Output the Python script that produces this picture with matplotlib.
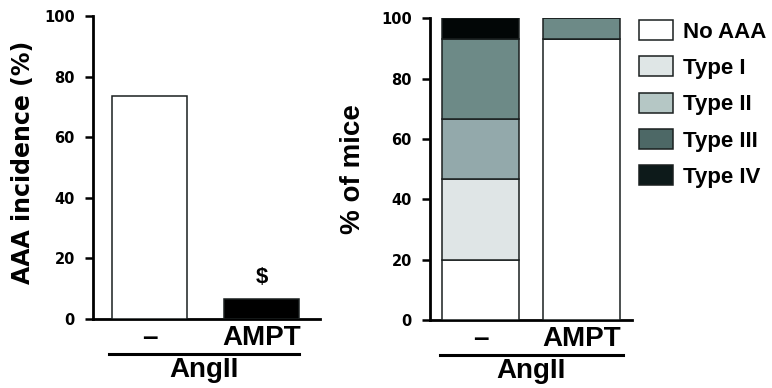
import matplotlib
matplotlib.use("Agg")
import matplotlib.pyplot as plt
from matplotlib.patches import Patch
import matplotlib.transforms as mtransforms

plt.rcParams['font.family'] = ['Liberation Sans', 'DejaVu Sans']
plt.rcParams['font.weight'] = 'bold'

# ---- data ----
groups = ["\u2013", "AMPT"]
incidence = [73.7, 6.7]
incidence_colors = ["white", "black"]

categories = ["No AAA", "Type I", "Type II", "Type III", "Type IV"]
stack_values = {
    "No AAA":   [20.0, 93.3],
    "Type I":   [26.7, 0.0],
    "Type II":  [20.0, 0.0],
    "Type III": [26.6, 6.7],
    "Type IV":  [6.7, 0.0],
}
bar_colors = ["#ffffff", "#dfe5e6", "#93a9ab", "#6d8a87", "#020606"]
legend_colors = ["#ffffff", "#dfe6e6", "#b5c7c5", "#4d6866", "#0d1a1a"]
treatment = "AngII"
yticks = [0, 20, 40, 60, 80, 100]

fig = plt.figure(figsize=(7.72, 3.88), dpi=100)

W, H = 772, 388
ax1 = fig.add_axes([93 / W, 1 - 319 / H, (320 - 93) / W, (319 - 16) / H])
ax2 = fig.add_axes([430 / W, 1 - 320 / H, (632 - 430) / W, (320 - 18.3) / H])

edge = "#1a1f1f"
tick_family = ["DejaVu Sans"]

def style(ax):
    for s in ["top", "right"]:
        ax.spines[s].set_visible(False)
    for s in ["left", "bottom"]:
        ax.spines[s].set_linewidth(2.0)
        ax.spines[s].set_color("black")
    ax.set_ylim(0, 100)
    ax.set_yticks(yticks)
    ax.tick_params(axis="y", length=6, width=1.8, labelsize=10.5, pad=7)
    ax.tick_params(axis="x", length=0, labelsize=20, pad=4)
    for lab in ax.get_yticklabels():
        lab.set_fontweight("bold")
        lab.set_family(tick_family)
    for lab in ax.get_xticklabels():
        lab.set_fontweight("bold")

# ---- left panel ----
x = [0, 1]
ax1.bar(x, incidence, width=0.667, color=incidence_colors, edgecolor=edge, linewidth=1.1, zorder=3)
ax1.set_xlim(-0.502, 1.516)
ax1.set_xticks(x)
ax1.set_xticklabels(groups)
style(ax1)
ax1.set_ylabel("AAA incidence (%)", fontsize=17, fontweight="bold", family=["DejaVu Sans"])
ax1.yaxis.set_label_coords(-0.255, 0.518)
ax1.text(1, incidence[1] + 3.5, "$", ha="center", va="bottom", fontsize=16, fontweight="bold")

tr1 = mtransforms.blended_transform_factory(ax1.transData, ax1.transAxes)
ax1.plot([-0.36, 1.33], [-0.1155, -0.1155], transform=tr1, color="black", lw=2.2, clip_on=False)
ax1.text(0.484, -0.168, treatment, transform=tr1, ha="center", va="center", fontsize=20, fontweight="bold")

# ---- right panel ----
bottom = [0.0, 0.0]
for cat, col in zip(categories, bar_colors):
    vals = stack_values[cat]
    ax2.bar(x, vals, width=0.76, bottom=bottom, color=col, edgecolor=edge, linewidth=1.1, zorder=3)
    bottom = [b + v for b, v in zip(bottom, vals)]
ax2.set_xlim(-0.5, 1.5)
ax2.set_xticks(x)
ax2.set_xticklabels(groups)
style(ax2)
ax2.set_ylabel("% of mice", fontsize=20, fontweight="bold")
ax2.yaxis.set_label_coords(-0.317, 0.50)

tr2 = mtransforms.blended_transform_factory(ax2.transData, ax2.transAxes)
ax2.plot([-0.40, 1.41], [-0.116, -0.116], transform=tr2, color="black", lw=2.2, clip_on=False)
ax2.text(0.5, -0.168, treatment, transform=tr2, ha="center", va="center", fontsize=20, fontweight="bold")

handles = [Patch(facecolor=c, edgecolor=edge, linewidth=1.1, label=l) for c, l in zip(legend_colors, categories)]
fig.legend(handles=handles, loc="upper left", bbox_to_anchor=(639 / W, 1 - 20 / H),
           frameon=False, prop={"weight": "bold", "size": 16},
           handlelength=1.55, handleheight=1.0, handletextpad=0.45,
           labelspacing=0.62, borderpad=0, borderaxespad=0)

fig.savefig("out.png", dpi=100)
